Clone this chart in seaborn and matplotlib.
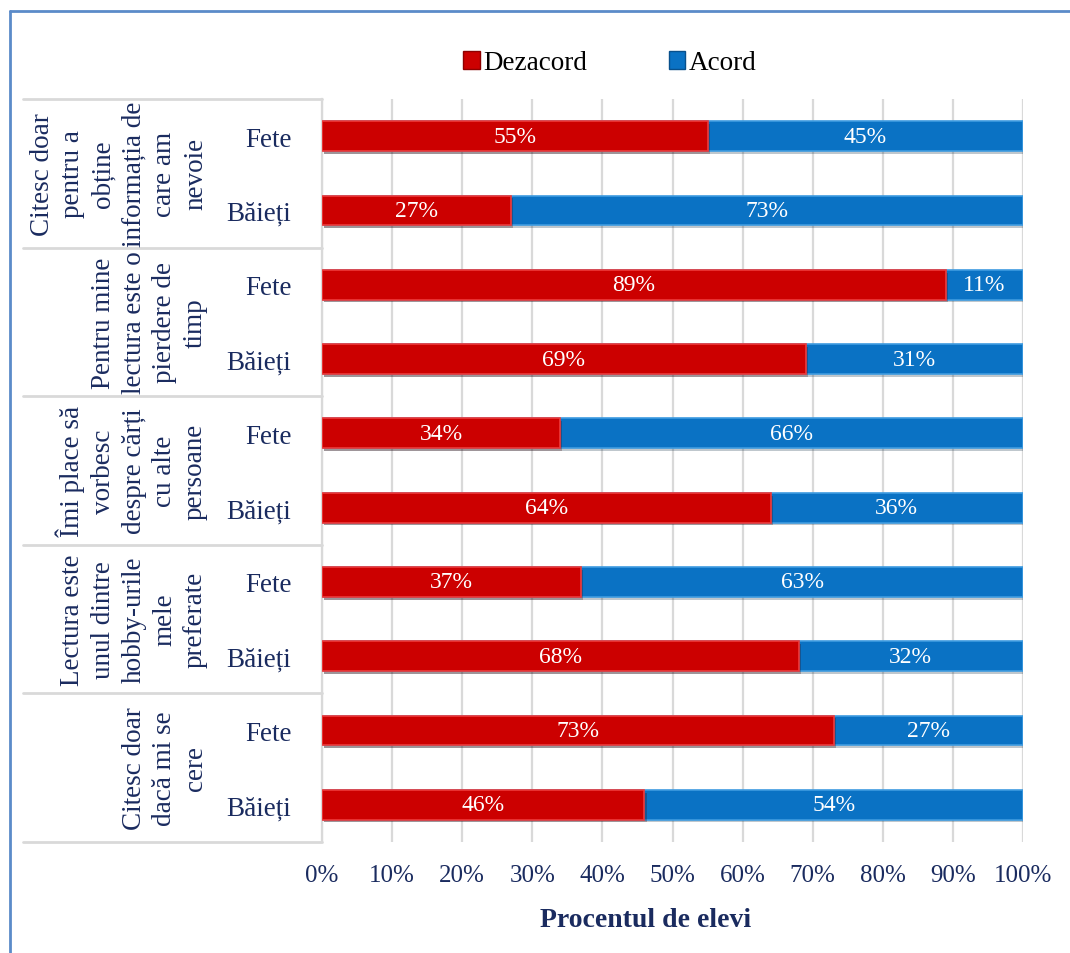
import matplotlib
matplotlib.use("Agg")
import matplotlib.pyplot as plt
import matplotlib.patheffects as pe
import matplotlib.transforms as mtransforms
from matplotlib.patches import Patch
from matplotlib.lines import Line2D
import pandas as pd
import seaborn as sns

# ---- data -------------------------------------------------------------
statements = [
    "Citesc doar\npentru a\nobține\ninformația de\ncare am\nnevoie",
    "Pentru mine\nlectura este o\npierdere de\ntimp",
    "Îmi place să\nvorbesc\ndespre cărți\ncu alte\npersoane",
    "Lectura este\nunul dintre\nhobby-urile\nmele\npreferate",
    "Citesc doar\ndacă mi se\ncere",
]
genders = ["Fete", "Băieți"]
dezacord = [55, 27, 89, 69, 34, 64, 37, 68, 73, 46]
acord = [45, 73, 11, 31, 66, 36, 63, 32, 27, 54]
series_names = ["Dezacord", "Acord"]
x_ticks = [0, 10, 20, 30, 40, 50, 60, 70, 80, 90, 100]
x_label = "Procentul de elevi"

# ---- style ------------------------------------------------------------
sns.set_style("white")
plt.rcParams["font.family"] = ["Liberation Serif", "DejaVu Serif"]
NAVY = "#1A2B5F"
RED = "#CC0000"
RED_EDGE = "#EE3B3B"
BLUE = "#0A72C4"
BLUE_EDGE = "#3E9BE0"
GRID = "#D9D9D9"

row_keys = [f"r{i}" for i in range(len(dezacord))]
row_labels = [genders[i % 2] for i in range(len(dezacord))]
df = pd.DataFrame({
    "row": row_keys,
    "dezacord": dezacord,
    "acord": acord,
})
df["total"] = df["dezacord"] + df["acord"]

fig = plt.figure(figsize=(10.70, 9.54), dpi=100)
ax = fig.add_axes([322 / 1070, 1 - 843 / 954, (1023 - 322) / 1070, (843 - 100) / 954])

shadow = [pe.SimplePatchShadow(offset=(1.5, -2), alpha=0.25), pe.Normal()]

# Acord drawn as the full stacked length, Dezacord laid over it
sns.barplot(data=df, x="total", y="row", order=row_keys, orient="h",
            color=BLUE, width=0.4, saturation=1, ax=ax,
            edgecolor=BLUE_EDGE, linewidth=1.2, zorder=2)
sns.barplot(data=df, x="dezacord", y="row", order=row_keys, orient="h",
            color=RED, width=0.4, saturation=1, ax=ax,
            edgecolor=RED_EDGE, linewidth=1.2, zorder=3)
for p in ax.patches:
    p.set_path_effects(shadow)

# value labels
red_container = ax.containers[1]
ax.bar_label(red_container, labels=[f"{v}%" for v in dezacord],
             label_type="center", color="white", fontsize=17, zorder=5)
for i, (d, a) in enumerate(zip(dezacord, acord)):
    ax.text(d + a / 2, i, f"{a}%", ha="center", va="center",
            color="white", fontsize=17, zorder=5)

# axes
ax.set_xlim(0, 100)
ax.set_ylim(len(row_keys) - 0.5, -0.5)
ax.set_xticks(x_ticks)
ax.set_xticklabels([f"{t}%" for t in x_ticks], color=NAVY, fontsize=18)
ax.set_yticks(range(len(row_keys)))
ax.set_yticklabels(row_labels, color=NAVY, fontsize=19.5)
ax.tick_params(axis="x", length=0, pad=16)
ax.tick_params(axis="y", length=0, pad=22)
ax.set_ylabel("")
ax.set_xlabel(x_label, fontsize=20, fontweight="bold", color=NAVY)
ax.xaxis.set_label_coords((646 - 322) / 701, (843 - 921) / 743)
ax.xaxis.label.set_va("center")

ax.set_axisbelow(True)
ax.grid(axis="x", color=GRID, linewidth=1.6, zorder=0)
ax.grid(axis="y", visible=False)
for side in ["top", "right", "bottom"]:
    ax.spines[side].set_visible(False)
ax.spines["left"].set_color(GRID)
ax.spines["left"].set_linewidth(1.6)

# category table on the left
blend = mtransforms.blended_transform_factory(ax.transAxes, ax.transData)
table_left = (23 - 322) / 701
for b in [-0.5, 1.5, 3.5, 5.5, 7.5, 9.5]:
    ax.add_line(Line2D([table_left, 0], [b, b], transform=blend,
                       color=GRID, linewidth=2, clip_on=False))
for g, text in enumerate(statements):
    ax.text((208 - 322) / 701, 2 * g + 0.5, text, transform=blend,
            rotation=90, ha="right", va="center", multialignment="center",
            color=NAVY, fontsize=19.5, linespacing=1.3, clip_on=False)

# legend
handles = [Patch(facecolor=RED, edgecolor="#8E0000"),
           Patch(facecolor=BLUE, edgecolor="#08508C")]
fig.legend(handles, series_names, loc="center", bbox_to_anchor=(610 / 1070, 1 - 64 / 954),
           ncol=2, frameon=False, fontsize=19.5, handlelength=0.6, handleheight=0.6,
           handletextpad=0.15, columnspacing=3.0, labelcolor="black")

# outer frame strokes
fc = "#5B8BC9"
fig.add_artist(Line2D([10 / 1070, 1], [1 - 12 / 954, 1 - 12 / 954],
                      transform=fig.transFigure, color=fc, linewidth=2))
fig.add_artist(Line2D([10 / 1070, 10 / 1070], [0, 1 - 12 / 954],
                      transform=fig.transFigure, color=fc, linewidth=2))

fig.savefig("out.png", dpi=100, facecolor="white")
